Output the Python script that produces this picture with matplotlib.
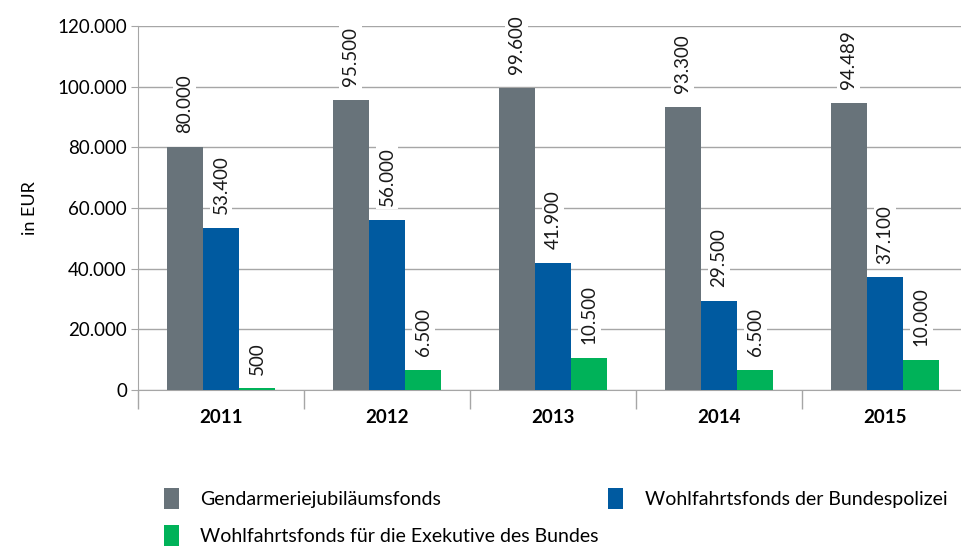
import matplotlib
matplotlib.use("Agg")
import matplotlib.pyplot as plt
import numpy as np
from matplotlib.patches import Patch

years = ["2011", "2012", "2013", "2014", "2015"]
series_names = ["Gendarmeriejubiläumsfonds",
                "Wohlfahrtsfonds der Bundespolizei",
                "Wohlfahrtsfonds für die Exekutive des Bundes"]
gendarmerie = [80000, 95500, 99600, 93300, 94489]
bundespolizei = [53400, 56000, 41900, 29500, 37100]
exekutive = [500, 6500, 10500, 6500, 10000]
colors = ["#68737A", "#005AA0", "#00B259"]

plt.rcParams['font.family'] = ['Lato', 'DejaVu Sans']

def fmt(v):
    return f"{v:,}".replace(",", ".")

fig = plt.figure(figsize=(9.62, 5.49), dpi=100)
ax = fig.add_axes([138/962, 1-390/549, (968-138)/962, (390-26)/549])

x = np.arange(len(years))
w = 0.218
data = [gendarmerie, bundespolizei, exekutive]
for i, (vals, c) in enumerate(zip(data, colors)):
    pos = x + (i - 1) * w
    bars = ax.bar(pos, vals, width=w, color=c, zorder=3, label=series_names[i])
    for b, v in zip(bars, vals):
        ax.annotate(fmt(v), (b.get_x() + b.get_width()/2, v),
                    xytext=(0, 10), textcoords="offset points",
                    rotation=90, ha="center", va="bottom", fontsize=13.5,
                    color="#1a1a1a", zorder=4,
                    bbox=dict(boxstyle="square,pad=0.15", fc="white", ec="none"))

ax.set_xlim(-0.5, len(years) - 0.5)
ax.set_ylim(0, 120000)
ax.set_yticks(np.arange(0, 120001, 20000))
ax.set_yticklabels([fmt(v) for v in range(0, 120001, 20000)], fontsize=13.5)
ax.yaxis.grid(True, color="#A6A6A6", linewidth=1, zorder=0)
ax.tick_params(axis="y", length=5, color="#A6A6A6", pad=3)

ax.set_xticks(x)
ax.set_xticklabels(years, fontsize=13.5, fontweight="bold")
ax.tick_params(axis="x", length=0, pad=14)
ax.set_xticks(np.arange(-0.5, len(years), 1), minor=True)
ax.tick_params(axis="x", which="minor", length=14, color="#A6A6A6", width=1)

for s in ["top", "right"]:
    ax.spines[s].set_visible(False)
for s in ["left", "bottom"]:
    ax.spines[s].set_color("#A6A6A6")
ax.set_ylabel("in EUR", fontsize=13, labelpad=14)

order = [0, 2, 1]
handles = [Patch(facecolor=colors[k]) for k in order]
labels = [series_names[k] for k in order]
fig.legend(handles, labels, loc="upper left", bbox_to_anchor=(146/962, 1-470/549),
           ncol=2, frameon=False, fontsize=14, handlelength=0.78, handleheight=1.3,
           handletextpad=1.1, columnspacing=0.5, labelspacing=0.85)

fig.savefig("out.png", dpi=100)
